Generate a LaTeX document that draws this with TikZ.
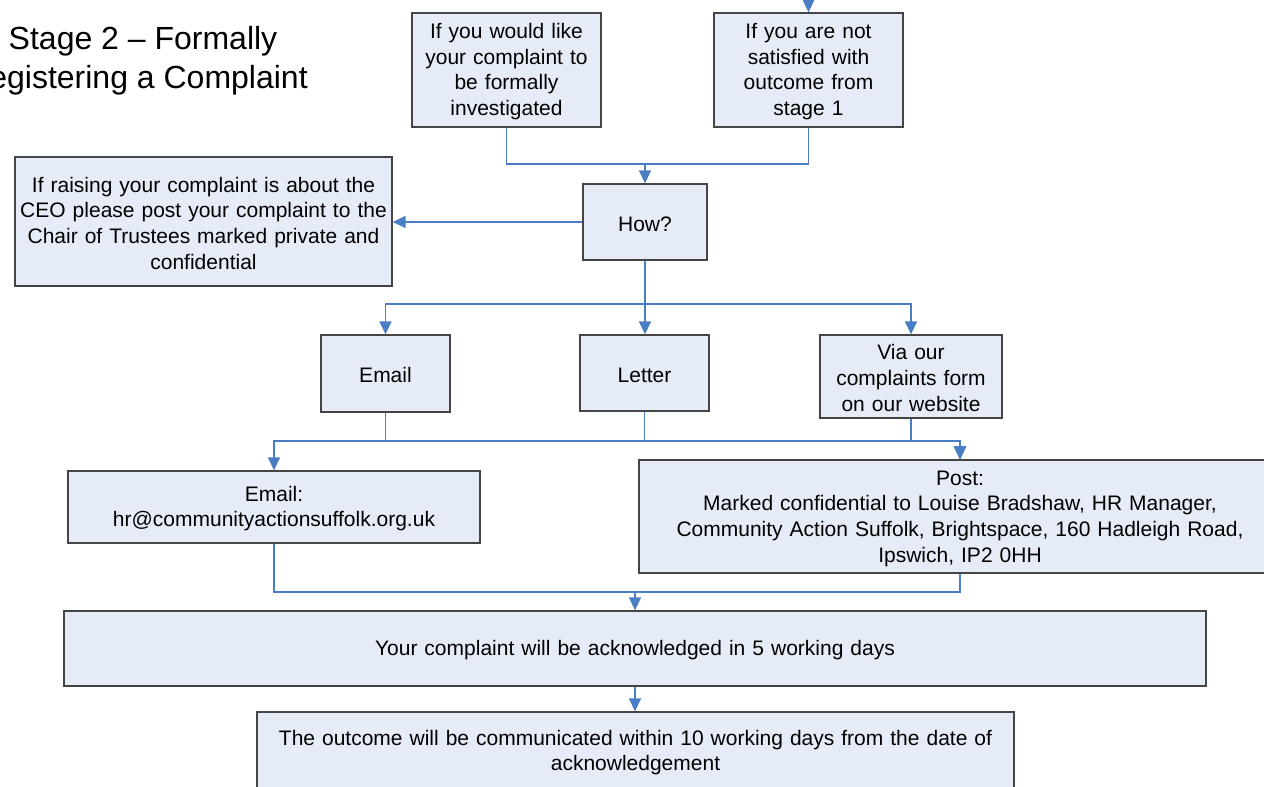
\documentclass[tikz,border=0pt]{standalone}
\usepackage{fontspec}
\setmainfont{Liberation Sans}
\usetikzlibrary{arrows.meta}
\definecolor{boxfill}{HTML}{E6ECF7}
\definecolor{boxline}{HTML}{454545}
\definecolor{connblue}{HTML}{4A7EC4}
\tikzset{
  box/.style={draw=boxline, fill=boxfill, line width=1.3pt, align=center, inner sep=0pt,
    font=\fontsize{21}{25.7}\selectfont, execute at begin node={\rule{0pt}{18.5pt}}},
  conn/.style={draw=connblue, line width=1.4pt},
  arr/.style={conn, -{Triangle[length=13pt,width=12pt]}},
}
\begin{document}
\begin{tikzpicture}[x=1pt,y=1pt]
\useasboundingbox (0,0) rectangle (1264,-787);
\clip (0,0) rectangle (1264,-787);
\fill[white] (0,0) rectangle (1264,-787);

\node[align=center, font=\fontsize{32}{39}\selectfont] (title) at (143,-60.5) {Stage 2 – Formally\\\hspace*{-12pt}Registering a Complaint};

\node[box, minimum width=189pt, minimum height=114pt, text width=189pt] (A) at (506.5,-70) {If you would like\\your complaint to\\be formally\\investigated};
\node[box, minimum width=189pt, minimum height=114pt, text width=189pt] (B) at (808.5,-70) {If you are not\\satisfied with\\outcome from\\stage 1};
\node[box, minimum width=124pt, minimum height=76pt, text width=124pt] (How) at (645,-222) {How?};
\node[box, minimum width=377pt, minimum height=129pt, text width=377pt] (CEO) at (203.5,-221.5) {If raising your complaint is about the\\CEO please post your complaint to the\\Chair of Trustees marked private and\\confidential};
\node[box, minimum width=129pt, minimum height=77pt, text width=129pt] (Email) at (385.5,-373.5) {Email};
\node[box, minimum width=129pt, minimum height=76pt, text width=129pt] (Letter) at (644.5,-373) {Letter};
\node[box, minimum width=182pt, minimum height=83pt, text width=182pt] (Via) at (911,-376.5) {Via our\\complaints form\\on our website};
\node[box, minimum width=412pt, minimum height=72pt, text width=412pt] (Addr) at (274,-507) {Email:\\hr@communityactionsuffolk.org.uk};
\node[box, minimum width=642pt, minimum height=113pt, text width=642pt] (Post) at (960,-516.5) {Post:\\Marked confidential to Louise Bradshaw, HR Manager,\\Community Action Suffolk, Brightspace, 160 Hadleigh Road,\\Ipswich, IP2 0HH};
\node[box, minimum width=1142pt, minimum height=75pt, text width=1142pt] (Ack) at (635,-648.5) {Your complaint will be acknowledged in 5 working days};
\node[box, minimum width=757pt, minimum height=78pt, text width=757pt] (Out) at (635.5,-751) {The outcome will be communicated within 10 working days from the date of\\acknowledgement};

\coordinate (top) at (B.north |- 0,0);
\draw[arr] (top) -- (B.north);

\draw[conn] (A.south) -- (A.south |- 0,-164) -| (B.south);
\coordinate (j1) at (How.north |- 0,-164);
\draw[arr] (j1) -- (How.north);

\draw[arr] (How.west) -- (How.west -| CEO.east);

\draw[arr] (How.south) -- (How.south |- 0,-304) -| (Email.north);
\draw[arr] (How.south) -- (How.south |- Letter.north);
\draw[arr] (How.south) -- (How.south |- 0,-304) -| (Via.north);

\draw[arr] (Email.south) -- (Email.south |- 0,-441) -| (Addr.north);
\draw[arr] (Email.south) -- (Email.south |- 0,-441) -| (Post.north);
\draw[arr] (Letter.south) -- (Letter.south |- 0,-441) -| (Post.north);
\draw[arr] (Via.south) -- (Via.south |- 0,-441) -| (Post.north);

\draw[conn] (Addr.south) -- (Addr.south |- 0,-592) -| (Post.south);
\coordinate (j2) at (Ack.north |- 0,-592);
\draw[arr] (j2) -- (Ack.north);
\draw[arr] (Ack.south) -- (Ack.south |- Out.north);
\end{tikzpicture}
\end{document}
